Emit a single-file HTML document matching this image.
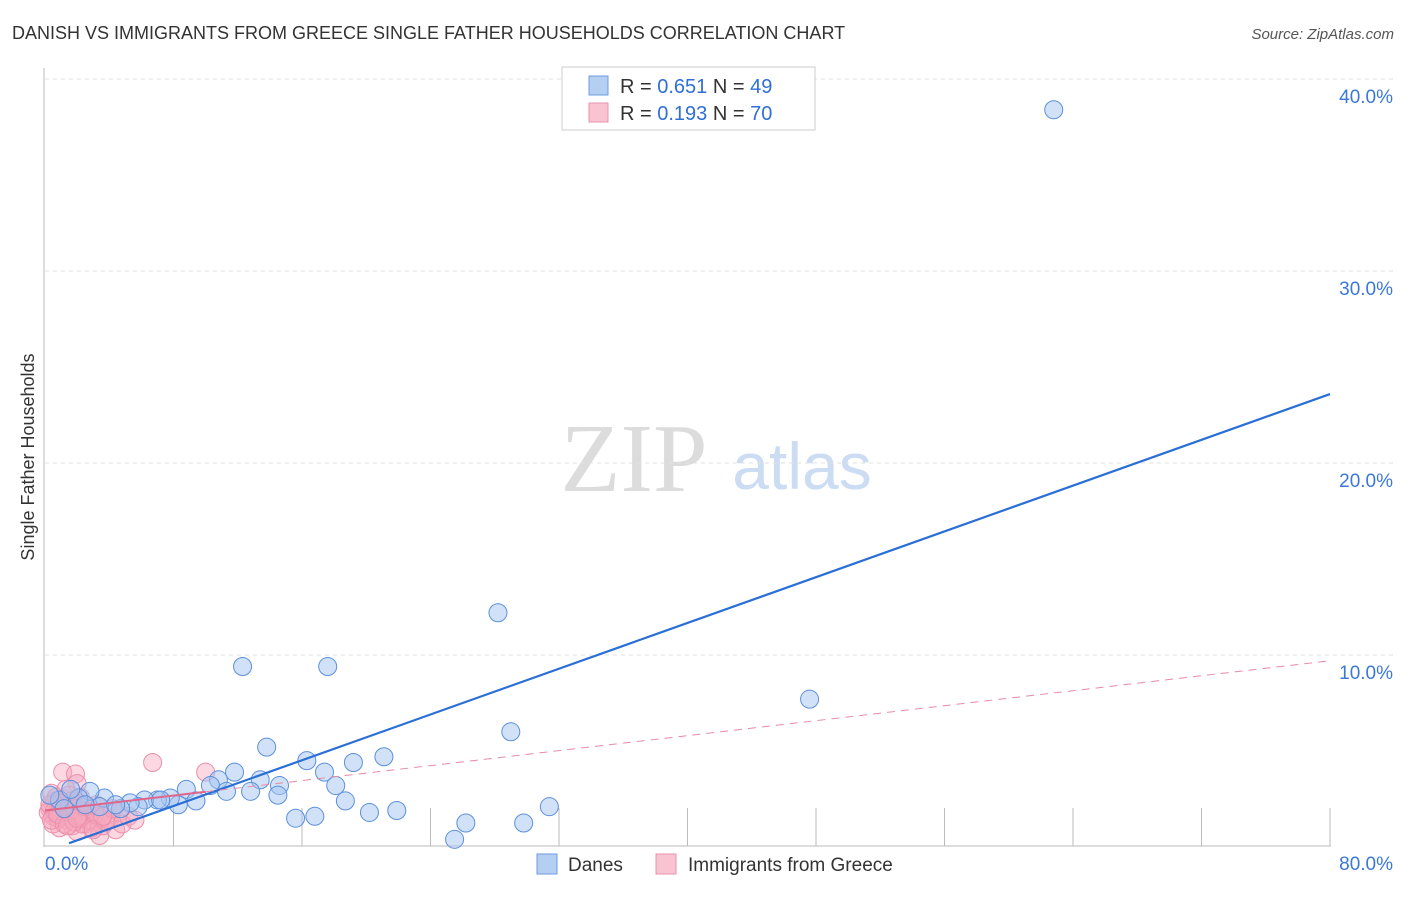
<!DOCTYPE html>
<html><head><meta charset="utf-8"><style>
body{margin:0;background:#fff;font-family:"Liberation Sans",sans-serif;}
</style></head><body>
<svg id="chart" width="1406" height="892" xmlns="http://www.w3.org/2000/svg" font-family="Liberation Sans, sans-serif">
<text x="12" y="39" font-size="18" fill="#333">DANISH VS IMMIGRANTS FROM GREECE SINGLE FATHER HOUSEHOLDS CORRELATION CHART</text>
<text x="1394" y="39" font-size="15" fill="#555" text-anchor="end" font-style="italic">Source: ZipAtlas.com</text>
<text x="634" y="491" font-size="98" fill="#dcdcdc" text-anchor="middle" style="font-family:'Liberation Serif',serif">ZIP</text>
<text x="802" y="489" font-size="66" fill="#cbdcf3" text-anchor="middle">atlas</text>
<text transform="translate(34,457) rotate(-90)" font-size="18" fill="#333" text-anchor="middle">Single Father Households</text>
<g id="grid"></g><g id="pts"></g><g id="lines"></g>
<g>
<rect x="562" y="67" width="253" height="63" fill="#fff" stroke="#ccc"/>
<rect x="589" y="76" width="19" height="19" fill="#b5cff2" stroke="#6d9be0"/>
<rect x="589" y="103" width="19" height="19" fill="#f9c3d2" stroke="#e993ab"/>
<text x="620" y="93" font-size="20" fill="#333">R = <tspan fill="#2f6fd6">0.651</tspan>   N = <tspan fill="#2f6fd6">49</tspan></text>
<text x="620" y="120" font-size="20" fill="#333">R = <tspan fill="#2f6fd6">0.193</tspan>   N = <tspan fill="#2f6fd6">70</tspan></text>
</g>
<g>
<rect x="537" y="854" width="20" height="20" fill="#b5cff2" stroke="#6d9be0"/>
<text x="568" y="871" font-size="19" fill="#333">Danes</text>
<rect x="656" y="854" width="20" height="20" fill="#f9c3d2" stroke="#e993ab"/>
<text x="688" y="871" font-size="19" fill="#333">Immigrants from Greece</text>
</g>
</svg>
<script>
const yTicks=[10,20,30,40];
const xTickLabels=["0.0%","80.0%"];
const blueX=[62.8,28.2,12.3,17.6,47.6,29.0,13.8,16.3,21.1,19.2,11.8,17.4,13.4,10.8,14.6,8.8,10.3,18.1,11.3,12.8,14.5,9.4,18.7,31.4,21.9,20.2,15.6,16.8,26.2,29.8,25.5,8.3,7.8,7.0,6.2,5.8,5.3,4.7,3.7,2.8,2.1,0.9,0.3,1.6,7.2,3.4,4.4,1.2,2.5];
const blueY=[38.4,12.2,9.4,9.4,7.7,6.0,5.2,4.5,4.7,4.4,3.9,3.9,3.5,3.5,3.2,3.0,3.2,3.2,2.9,2.9,2.7,2.4,2.4,2.1,1.9,1.8,1.5,1.6,1.25,1.25,0.4,2.2,2.55,2.45,2.45,2.1,2.3,2.0,2.55,2.9,2.55,2.45,2.7,3.0,2.45,2.1,2.2,2.0,2.2];
const pinkX=[6.7,10.0,1.1,1.9,2.0,4.6,3.4,0.6,0.3,0.5,0.8,1.0,1.2,1.4,1.6,1.8,2.1,2.3,2.5,2.8,3.0,3.3,3.6,4.0,4.4,4.8,5.2,0.4,0.7,0.9,1.3,1.5,1.7,2.2,2.6,2.9,3.2,3.5,0.2,0.5,0.8,1.1,1.4,1.7,2.0,2.4,2.7,3.1,3.8,4.2,0.3,0.6,1.0,1.3,1.6,1.9,2.3,0.4,0.8,1.2,1.5,1.8,2.1,2.5,3.0,3.6,0.9,1.4,2.0,5.6];
const pinkY=[4.4,3.9,3.9,3.8,3.3,1.8,0.6,2.4,2.0,1.6,2.2,1.9,2.5,1.4,2.1,1.7,2.3,1.5,1.2,2.0,1.3,1.6,1.1,1.4,0.9,1.2,1.6,2.8,2.6,1.0,3.0,2.7,1.1,2.6,1.8,1.0,2.2,1.5,1.8,1.2,1.5,2.0,1.7,2.4,0.8,1.9,1.4,1.7,1.3,2.0,2.2,1.9,1.6,1.9,1.5,2.0,1.2,1.4,1.7,1.2,1.8,1.3,1.6,2.1,0.9,1.6,2.3,1.1,1.5,1.4];
const blueTrend=[-0.25,0.298];
const pinkTrend=[1.9,0.0975];
const NS="http://www.w3.org/2000/svg";
const X=v=>45+v/80*1285, Y=v=>847-v*19.2;
function mk(t,a,p){const e=document.createElementNS(NS,t);for(const k in a)e.setAttribute(k,a[k]);p.appendChild(e);return e;}
const g=document.getElementById('grid');
yTicks.forEach(t=>{
 const l=mk('line',{x1:45,x2:1395,y1:Y(t),y2:Y(t),stroke:'#e2e2e2','stroke-dasharray':'4,4'},g);
 
 
 const tx=mk('text',{x:1393,y:Y(t)+24,'font-size':19,fill:'#3b78d8','text-anchor':'end'},g);
 tx.textContent=t.toFixed(1)+'%';
 
 
});
const ax=mk('line',{x1:44,x2:44,y1:68,y2:847,stroke:'#bbb'},g);


const bx=mk('line',{x1:44,x2:1331,y1:846,y2:846,stroke:'#bbb'},g);


for(let i=1;i<=10;i++){const t=mk('line',{x1:X(i*8),x2:X(i*8),y1:808,y2:846,stroke:'#bbb'},g);
 
 }
[[0,45,'start'],[1,1393,'end']].forEach(([i,x,a])=>{const t=mk('text',{x:x,y:870,'font-size':19,fill:'#3b78d8','text-anchor':a},g);t.textContent=xTickLabels[i];
 
 });
const p=document.getElementById('pts');
pinkX.forEach((v,i)=>{const c=mk('circle',{cx:X(v),cy:Y(pinkY[i]),r:9,fill:'rgba(246,168,190,0.45)',stroke:'#ec8fab','stroke-width':1},p);
 
 });
blueX.forEach((v,i)=>{const c=mk('circle',{cx:X(v),cy:Y(blueY[i]),r:9,fill:'rgba(164,196,240,0.5)',stroke:'#5c90dc','stroke-width':1},p);
 
 });
const L=document.getElementById('lines');
const bl=mk('line',{x1:X(1.5),y1:Y(blueTrend[0]+blueTrend[1]*1.5),x2:X(80),y2:Y(blueTrend[0]+blueTrend[1]*80),stroke:'#2a6fd6','stroke-width':2.2},L);


const ps=mk('line',{x1:X(0),y1:Y(pinkTrend[0]),x2:X(10),y2:Y(pinkTrend[0]+pinkTrend[1]*10),stroke:'#e0668c','stroke-width':2},L);


const pd=mk('line',{x1:X(10),y1:Y(pinkTrend[0]+pinkTrend[1]*10),x2:X(80),y2:Y(pinkTrend[0]+pinkTrend[1]*80),stroke:'#e88aa6','stroke-width':1,'stroke-dasharray':'8,6'},L);


</script>
</body></html>
